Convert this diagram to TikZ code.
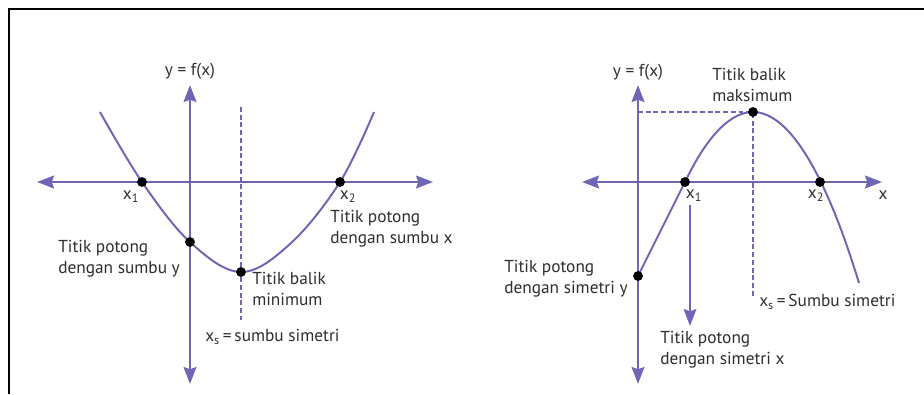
\documentclass[tikz,border=0pt]{standalone}
\usepackage{fontspec}
\setmainfont{PT Sans}
\usepackage{xcolor}
\usepackage{tikz}
\usetikzlibrary{arrows.meta}
\definecolor{axis}{HTML}{6E66B4}
\definecolor{ink}{HTML}{2E2E2E}

\begin{document}
\begin{tikzpicture}[
  x=0.025cm,y=-0.025cm,
  font=\fontsize{12.3}{15}\selectfont,color=ink,
  ax/.style={draw=axis,line width=1.8pt,-{Stealth[length=12pt,width=9pt,inset=1.5pt]}},
  curve/.style={draw=axis,line width=1.4pt},
  guide/.style={draw=axis,line width=1.1pt,dash pattern=on 3.5pt off 2pt},
  pt/.style={fill=black,circle,inner sep=0pt,minimum size=7pt},
  lbl/.style={anchor=north west,align=left,inner sep=0pt,text=ink}]
  \useasboundingbox (0,0) rectangle (924,394);
  \draw[line width=1.5pt,black] (9,394) -- (9,9) -- (924,9);
  % left graph: minimum
  \coordinate (lO) at (190,182);
  \coordinate (lxl) at (37,182);  \coordinate (lxr) at (433,182);
  \coordinate (lyt) at (190,85);  \coordinate (lyb) at (190,384);
  \coordinate (lx1) at (142,182); \coordinate (lx2) at (340,182);
  \coordinate (lyi) at (190,242); \coordinate (lmin) at (241,272);
  \coordinate (lst) at (241,107); \coordinate (lsb) at (241,320);
  \draw[ax] (lO) -- (lxl);
  \draw[ax] (lO) -- (lxr);
  \draw[ax] (lO) -- (lyt);
  \draw[ax] (lO) -- (lyb);
  \draw[guide] (lst) -- (lsb);
  \draw[curve] plot[smooth,tension=0.6] coordinates
       {(100,112) (lx1) (lyi) (lmin) (291,243) (lx2) (374,112)};
  \foreach \p in {lx1,lx2,lyi,lmin} \node[pt] at (\p) {};
  \node (lfx) at (190,71) {y = f(x)};
  \node (lx1t) at (131,197) {x\textsubscript{1}};
  \node (lx2t) at (348,197) {x\textsubscript{2}};
  \node[lbl] (lpx) at (330,210) {Titik potong\\dengan sumbu x};
  \node[lbl] (lpy) at (58,240) {Titik potong\\dengan sumbu y};
  \node[lbl] (lbm) at (252,272) {Titik balik\\minimum};
  \node[anchor=west,inner sep=0pt] (lsim) at (205,337) {x\textsubscript{s}\,=\,sumbu simetri};
  % right graph: maximum
  \coordinate (rO) at (638,182);
  \coordinate (rxl) at (582,182); \coordinate (rxr) at (882,182);
  \coordinate (ryt) at (638,85);  \coordinate (ryb) at (638,384);
  \coordinate (rx1) at (685,182); \coordinate (rx2) at (820,182);
  \coordinate (ryi) at (638,276); \coordinate (rmax) at (753,112);
  \coordinate (rend) at (859,283);
  \coordinate (rya) at (638,112); \coordinate (rsb) at (753,297);
  \coordinate (rat) at (690,205); \coordinate (rab) at (690,326);
  \draw[ax] (rO) -- (rxl);
  \draw[ax] (rO) -- (rxr);
  \draw[ax] (rO) -- (ryt);
  \draw[ax] (rO) -- (ryb);
  \draw[guide] (rya) -- (rmax) -- (rsb);
  \draw[curve] (ryi) -- (rx1) parabola bend (rmax) (rend);
  \draw[ax,line width=1.4pt] (rat) -- (rab);
  \foreach \p in {rx1,rx2,ryi,rmax} \node[pt] at (\p) {};
  \node (rfx) at (638,72) {y = f(x)};
  \node (rx1t) at (694,196) {x\textsubscript{1}};
  \node (rx2t) at (816,196) {x\textsubscript{2}};
  \node (rxt) at (883,195) {x};
  \node[lbl] (rbm) at (712,68) {Titik balik\\maksimum};
  \node[lbl] (rpy) at (504,260) {Titik potong\\dengan simetri y};
  \node[lbl] (rpx) at (660,331) {Titik potong\\dengan simetri x};
  \node[anchor=west,inner sep=0pt] (rsim) at (759,302) {x\textsubscript{s}\,=\,Sumbu simetri};
\end{tikzpicture}
\end{document}
